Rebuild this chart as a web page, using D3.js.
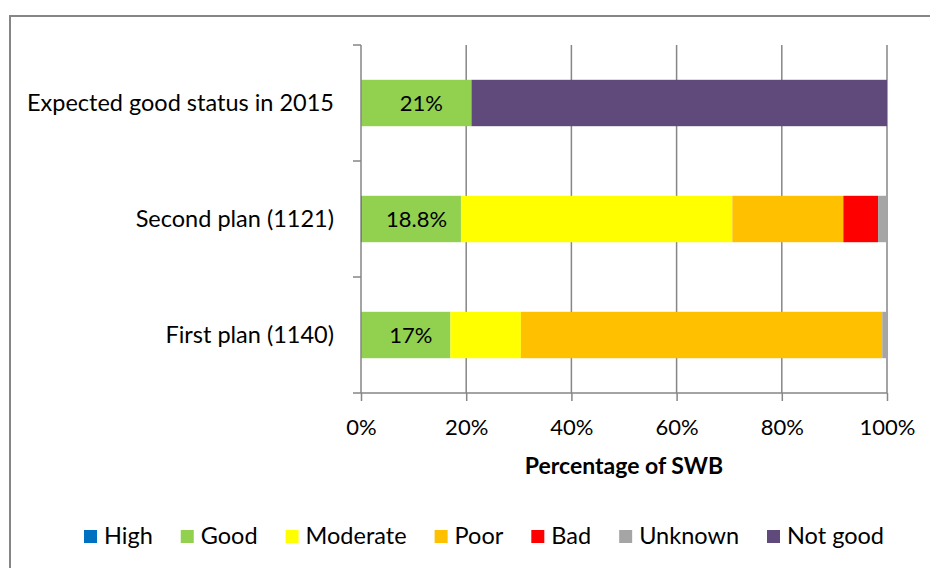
<!DOCTYPE html>
<html>
<head>
<meta charset="utf-8">
<script src="https://cdn.jsdelivr.net/npm/d3@7"></script>
<style>
  body { margin: 0; background: #fff; }
  text { font-family: Lato, "Open Sans", sans-serif; fill: #000; }
</style>
</head>
<body>
<div id="canvas"></div>
<script>
var categories = ['Expected good status in 2015', 'Second plan (1121)', 'First plan (1140)'];
var seriesNames = ['High', 'Good', 'Moderate', 'Poor', 'Bad', 'Unknown', 'Not good'];
var seriesColors = ['#0070C0', '#92D050', '#FFFF00', '#FFC000', '#FF0000', '#A5A5A5', '#604A7B'];
// one array per series, values in the same order as categories
var high     = [0,    0.2,  0];
var good     = [21,   18.8, 17];
var moderate = [0,    51.6, 13.4];
var poor     = [0,    21.1, 68.7];
var bad      = [0,    6.6,  0];
var unknown  = [0,    1.7,  0.9];
var notGood  = [79,   0,    0];
var goodLabels = ['21%', '18.8%', '17%'];
var xTicks = [0, 20, 40, 60, 80, 100];

var width = 930, height = 568;
var plotLeft = 361, plotRight = 887, plotTop = 45, plotBottom = 393;

var svg = d3.select('#canvas').append('svg')
    .attr('width', width)
    .attr('height', height);

// outer chart frame
svg.append('rect')
    .attr('x', 10).attr('y', 16)
    .attr('width', 940).attr('height', 600)
    .attr('fill', 'none')
    .attr('stroke', '#868686')
    .attr('stroke-width', 2);

var x = d3.scaleLinear().domain([0, 100]).range([plotLeft, plotRight]);
var y = d3.scaleBand().domain(categories).range([plotTop, plotBottom]).paddingInner(0.6).paddingOuter(0.3);

// gridlines
svg.append('g').selectAll('line')
    .data(xTicks.slice(1))
    .enter().append('line')
    .attr('x1', function (d) { return x(d); })
    .attr('x2', function (d) { return x(d); })
    .attr('y1', plotTop).attr('y2', plotBottom)
    .attr('stroke', '#868686')
    .attr('stroke-width', 1.5);

// stacked bars
var allSeries = [high, good, moderate, poor, bad, unknown, notGood];
var rows = categories.map(function (c, i) {
    var row = { cat: c };
    seriesNames.forEach(function (s, j) { row[s] = allSeries[j][i]; });
    return row;
});
var stack = d3.stack().keys(seriesNames)(rows);

svg.append('g').selectAll('g')
    .data(stack)
    .enter().append('g')
    .attr('fill', function (d, i) { return seriesColors[i]; })
    .selectAll('rect')
    .data(function (d) { return d; })
    .enter().append('rect')
    .attr('x', function (d) { return x(d[0]); })
    .attr('width', function (d) { return x(d[1]) - x(d[0]); })
    .attr('y', function (d) { return y(d.data.cat); })
    .attr('height', y.bandwidth());

// labels on the Good segment
var goodStack = stack[1];
svg.append('g').selectAll('text')
    .data(goodStack)
    .enter().append('text')
    .attr('x', function (d) { return (x(d[0]) + x(d[1])) / 2 + 5; })
    .attr('y', function (d) { return y(d.data.cat) + y.bandwidth() / 2; })
    .attr('dy', '0.35em')
    .attr('text-anchor', 'middle')
    .style('font-size', '22px')
    .text(function (d, i) { return goodLabels[i]; });

// x axis
var xAxis = d3.axisBottom(x)
    .tickValues(xTicks)
    .tickSize(8)
    .tickPadding(18)
    .tickFormat(function (d) { return d + '%'; });
var gx = svg.append('g')
    .attr('transform', 'translate(0,' + plotBottom + ')')
    .call(xAxis);
gx.select('.domain').attr('stroke', '#868686').attr('stroke-width', 1.5).attr('d', 'M' + plotLeft + ',0H' + plotRight);
gx.selectAll('.tick line').attr('stroke', '#868686').attr('stroke-width', 1.5);
gx.selectAll('.tick text').style('font-size', '22px').style('font-family', 'Lato, sans-serif').attr('fill', '#000');

// y axis with ticks between the categories
var yTickPos = d3.range(categories.length + 1).map(function (i) {
    return plotTop + i * (plotBottom - plotTop) / categories.length;
});
svg.append('line')
    .attr('x1', plotLeft).attr('x2', plotLeft)
    .attr('y1', plotTop).attr('y2', plotBottom)
    .attr('stroke', '#868686').attr('stroke-width', 1.5);
svg.append('g').selectAll('line')
    .data(yTickPos)
    .enter().append('line')
    .attr('x1', plotLeft - 8).attr('x2', plotLeft)
    .attr('y1', function (d) { return d; })
    .attr('y2', function (d) { return d; })
    .attr('stroke', '#868686').attr('stroke-width', 1.5);

svg.append('g').selectAll('text')
    .data(categories)
    .enter().append('text')
    .attr('x', 334)
    .attr('y', function (d) { return y(d) + y.bandwidth() / 2; })
    .attr('dy', '0.35em')
    .attr('text-anchor', 'end')
    .style('font-size', '23.5px')
    .text(function (d) { return d; });

// axis title
svg.append('text')
    .attr('x', (plotLeft + plotRight) / 2)
    .attr('y', 474)
    .attr('text-anchor', 'middle')
    .style('font-size', '23px')
    .style('font-weight', 'bold')
    .text('Percentage of SWB');

// legend
var legend = svg.append('g');
var lx = 84;
seriesNames.forEach(function (name, i) {
    legend.append('rect')
        .attr('x', lx).attr('y', 530)
        .attr('width', 13).attr('height', 13)
        .attr('fill', seriesColors[i]);
    var t = legend.append('text')
        .attr('x', lx + 20).attr('y', 536)
        .attr('dy', '0.35em')
        .style('font-size', '23.5px')
        .text(name);
    lx += 20 + t.node().getComputedTextLength() + 28;
});
</script>
</body>
</html>
